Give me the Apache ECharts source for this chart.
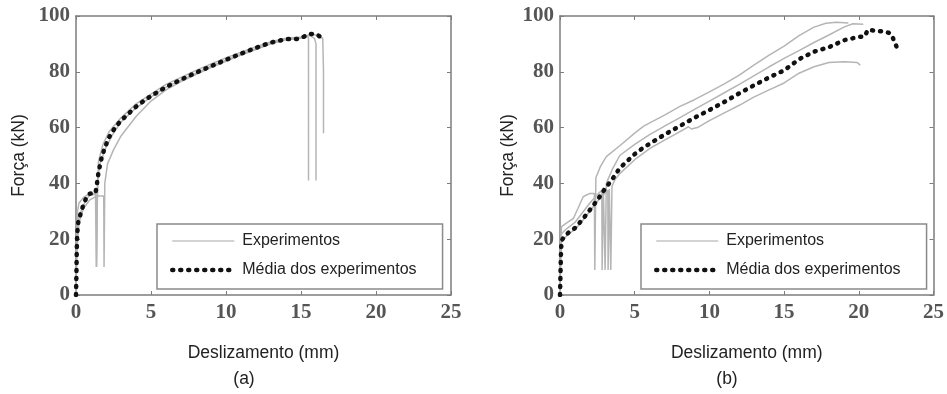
<!DOCTYPE html>
<html>
<head>
<meta charset="utf-8">
<script src="https://cdn.jsdelivr.net/npm/echarts@6/dist/echarts.min.js"></script>
<style>
  html, body { margin: 0; padding: 0; background: #fff; }
  #chart { width: 947px; height: 394px; }
</style>
</head>
<body>
<div id="chart"></div>
<script>
// Ensaios de deslizamento: força (kN) x deslizamento (mm)
const xTickStep = 5;
const yTickStep = 20;
const xRange = [0, 25];
const yRange = [0, 100];
const xAxisName = 'Deslizamento (mm)';
const yAxisName = 'Força (kN)';
const panelLabels = ['(a)', '(b)'];
const legendNames = ['Experimentos', 'Média dos experimentos'];

// Painel (a): três ensaios e a média
const expA1 = [[0,0],[0.05,20],[0.1,30],[0.2,33],[0.5,35],[0.8,36],[1.3,36],[1.38,35],[1.38,10],[1.42,10],[1.42,36],[1.5,48],[1.8,54],[2.2,58.5],[3,63.5],[4,68.5],[5,72],[6,75.5],[7,78],[8,80.5],[9,82.8],[10,85],[11,87],[12,89],[13,90.8],[14,92],[15,92.5],[15.4,93],[15.5,92],[15.5,41]];
const expA2 = [[0,0],[0.05,18],[0.15,27],[0.4,31],[0.7,34.5],[1.0,36],[1.3,36.5],[1.35,10],[1.4,10],[1.45,42],[1.6,47],[2,53],[2.5,58],[3,62],[4,67],[5,71],[6,74.5],[7,77],[8,79.5],[9,82],[10,84.2],[11,86.3],[12,88.3],[13,90.2],[14,91.5],[15,92.2],[15.6,93],[15.9,92],[16,90],[16,41]];
const expA3 = [[0,0],[0.05,15],[0.2,26],[0.5,31],[0.9,34],[1.4,35.5],[1.85,35.5],[1.87,10],[1.92,10],[1.92,40],[2.1,47],[2.5,52],[3,57],[4,64],[5,69.5],[6,73.5],[7,76.5],[8,79],[9,81.5],[10,83.8],[11,86],[12,88],[13,90],[14,91.5],[15,92],[15.6,93.5],[16.2,93],[16.45,92],[16.5,80],[16.5,58]];
const meanA = [[0,0],[0.03,8],[0.05,16],[0.08,22],[0.15,26],[0.3,29],[0.5,32.5],[0.7,35],[0.9,36.3],[1.3,36.5],[1.4,40],[1.5,44],[1.7,49],[1.9,52.5],[2.2,56.5],[2.6,60],[3,62.5],[3.5,65],[4,67.5],[4.5,69.5],[5,71.3],[6,74.5],[7,77.2],[8,79.7],[9,82],[10,84.3],[11,86.5],[12,88.6],[13,90.5],[14,91.7],[14.8,91.8],[15.2,92.6],[15.6,93.6],[16,93.5],[16.3,92.5],[16.4,91]];

// Painel (b): três ensaios e a média
const expB1 = [[0,0],[0.05,18],[0.1,24.5],[0.5,26],[0.9,27.5],[1.2,31],[1.55,35.2],[2,36.4],[2.3,36.4],[2.33,9],[2.37,9],[2.4,42],[2.7,46],[3.1,49.6],[4,53.5],[5,58],[5.6,60.5],[6.2,62.2],[7,64.5],[8,67.5],[9,70],[10,72.8],[11,75.7],[12,78.8],[13,82.5],[14,86],[15,89.2],[16,93],[17,96],[17.8,97.4],[18.5,97.8],[19.3,97.5]];
const expB2 = [[0,0],[0.05,16],[0.1,22],[0.5,24],[1,26],[1.5,29.5],[2,33],[2.5,36],[2.8,37.5],[2.82,9],[2.86,9],[2.9,38.5],[3.0,38.8],[3.02,9],[3.06,9],[3.1,40],[3.5,45],[4,50],[5,54],[6,57.5],[7,60.5],[8,63.5],[9,66.5],[10,69.5],[11,72.5],[12,75.5],[13,78.6],[14,81.8],[15,84.8],[16,87.6],[17,90.5],[18,93.2],[19,96],[19.6,97.2],[20.3,97]];
const expB3 = [[0,0],[0.05,14],[0.1,19],[0.5,21.5],[1,23.5],[1.5,26.5],[2,30],[2.5,33.5],[3,36.5],[3.2,37.5],[3.22,9],[3.26,9],[3.3,38],[3.38,38.3],[3.4,9],[3.44,9],[3.48,39],[3.7,41.5],[4,43.5],[5,48.5],[6,52.5],[7,55.5],[8,58.5],[8.6,60.3],[8.8,59.5],[9.2,60],[10,62.5],[11,65.3],[12,68],[13,71],[14,73.5],[15,76],[16,79.5],[17,81.8],[18,83.3],[19,83.6],[19.9,83.3],[20.1,82.4]];
const meanB = [[0,0],[0.03,7],[0.06,14],[0.1,19.5],[0.3,21],[0.6,22.5],[1,24],[1.5,27],[2,30.5],[2.5,34],[3,38],[3.5,41.5],[4,45.5],[4.5,48],[5,50.5],[5.5,52.5],[6,54.2],[7,57.5],[8,60.5],[9,63.5],[10,66.3],[11,69.2],[12,72.3],[13,75.2],[14,78],[15,80.5],[16,84.5],[17,87.2],[18,88.8],[19,91.3],[20,92.5],[20.4,92.7],[20.6,95],[21,94.8],[21.5,94.5],[22,94],[22.2,93.3],[22.4,90.5],[22.7,87]];

const panels = [
  { exps: [expA1, expA2, expA3], mean: meanA, left: 76, yNameGap: 48, label: panelLabels[0], labelX: 244 },
  { exps: [expB1, expB2, expB3], mean: meanB, left: 560, yNameGap: 43, label: panelLabels[1], labelX: 727 }
];

const axisColor = '#7d7d7d';
const tickFont = { fontFamily: 'Liberation Serif', fontWeight: 'bold', fontSize: 21, color: '#555' };
const nameFont = { fontFamily: 'Liberation Sans', fontSize: 17.5, color: '#222' };
const expStyle = { color: '#b5b5b5', width: 1.5 };
const meanStyle = { color: '#111', width: 4.5, type: [1, 7], cap: 'round' };

const grids = [], xAxes = [], yAxes = [], series = [], legends = [], graphics = [];

panels.forEach((p, i) => {
  grids.push({ left: p.left, top: 16, width: 375, height: 279, show: false });
  const lineCommon = { show: true, onZero: false, lineStyle: { color: axisColor, width: 1.5 } };
  const tickCommon = { show: true, inside: true, length: 4, lineStyle: { color: axisColor, width: 1 } };
  xAxes.push({
    gridIndex: i, type: 'value', min: xRange[0], max: xRange[1], interval: xTickStep,
    position: 'bottom', axisLine: lineCommon, axisTick: tickCommon, splitLine: { show: false },
    axisLabel: Object.assign({ margin: 7 }, tickFont),
    name: xAxisName, nameLocation: 'middle', nameGap: 49, nameTextStyle: nameFont
  });
  xAxes.push({
    gridIndex: i, type: 'value', min: xRange[0], max: xRange[1], interval: xTickStep,
    position: 'top', axisLine: lineCommon, axisTick: tickCommon, splitLine: { show: false },
    axisLabel: { show: false }
  });
  yAxes.push({
    gridIndex: i, type: 'value', min: yRange[0], max: yRange[1], interval: yTickStep,
    position: 'left', axisLine: lineCommon, axisTick: tickCommon, splitLine: { show: false },
    axisLabel: Object.assign({ margin: 6 }, tickFont),
    name: yAxisName, nameLocation: 'middle', nameGap: p.yNameGap, nameTextStyle: nameFont
  });
  yAxes.push({
    gridIndex: i, type: 'value', min: yRange[0], max: yRange[1], interval: yTickStep,
    position: 'right', axisLine: lineCommon, axisTick: tickCommon, splitLine: { show: false },
    axisLabel: { show: false }
  });

  p.exps.forEach(d => {
    series.push({
      type: 'line', name: legendNames[0], xAxisIndex: 2 * i, yAxisIndex: 2 * i,
      data: d, symbol: 'none', smooth: false, lineStyle: expStyle, itemStyle: { color: expStyle.color },
      silent: true, animation: false
    });
  });
  series.push({
    type: 'line', name: legendNames[1], xAxisIndex: 2 * i, yAxisIndex: 2 * i,
    data: p.mean, symbol: 'none', lineStyle: meanStyle, itemStyle: { color: meanStyle.color },
    silent: true, animation: false, z: 5
  });

  legends.push({
    left: p.left + 81, top: 224, orient: 'vertical',
    data: [
      { name: legendNames[0], lineStyle: { width: expStyle.width, color: '#c4c4c4' } },
      { name: legendNames[1], lineStyle: { width: meanStyle.width, type: meanStyle.type, cap: 'round' } }
    ],
    itemWidth: 62, itemHeight: 14, itemGap: 13,
    itemStyle: { opacity: 0 },
    padding: [9, 26, 11, 13],
    borderColor: '#8a8a8a', borderWidth: 1.5, backgroundColor: '#fff',
    textStyle: { fontFamily: 'Liberation Sans', fontSize: 16, color: '#222', padding: [0, 0, 0, 3] },
    selectedMode: false
  });

  graphics.push({
    type: 'text', x: p.labelX, y: 379,
    style: { text: p.label, font: '17.5px "Liberation Sans"', fill: '#222', align: 'center', verticalAlign: 'middle' }
  });
});

const chart = echarts.init(document.getElementById('chart'), null, { renderer: 'canvas' });
chart.setOption({
  animation: false,
  backgroundColor: '#fff',
  grid: grids,
  xAxis: xAxes,
  yAxis: yAxes,
  legend: legends,
  series: series,
  graphic: graphics
});
</script>
</body>
</html>
